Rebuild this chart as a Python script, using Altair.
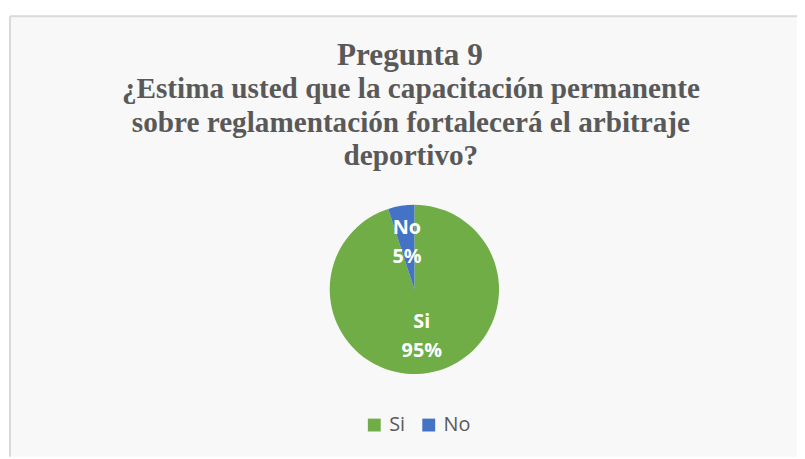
import altair as alt
import pandas as pd

categories = ["Si", "No"]
values = [95, 5]
colors = ["#70AD47", "#4472C4"]
order_idx = [1, 2]
labels = ["Si\n95%", "No\n5%"]

title_text = "Pregunta 9"
subtitle_text = "¿Estima usted que la capacitación permanente\nsobre reglamentación fortalecerá el arbitraje\ndeportivo?"

df = pd.DataFrame({"cat": categories, "val": values, "ord": order_idx, "label": labels})
one = pd.DataFrame({"k": [0]})

CX, CY, R = 408.5, 276, 85.5

base = alt.Chart(df).encode(
    theta=alt.Theta("val:Q", stack=True),
    order=alt.Order("ord:Q"),
)

pie = base.mark_arc(radius=R, stroke=None).encode(
    x=alt.value(CX),
    y=alt.value(CY),
    color=alt.Color(
        "cat:N",
        scale=alt.Scale(domain=categories, range=colors),
        sort=categories,
        legend=alt.Legend(
            title=None,
            orient="none",
            direction="horizontal",
            legendX=358,
            legendY=403,
            symbolType="square",
            symbolSize=169,
            symbolStrokeWidth=0,
            labelFont="Open Sans",
            labelFontSize=20,
            labelColor="#595959",
            columnPadding=13,
            labelOffset=5,
        ),
    ),
)

text = base.mark_text(
    radius=48,
    font="Open Sans",
    fontSize=20,
    fontWeight="bold",
    color="white",
    lineBreak="\n",
    lineHeight=29,
    baseline="middle",
    align="center",
    dy=-14.5,
).encode(
    x=alt.value(CX),
    y=alt.value(CY),
    text="label:N",
)

title = alt.Chart(one).mark_text(
    font="Liberation Serif",
    fontSize=31.5,
    fontWeight="bold",
    color="#595959",
    align="center",
    baseline="alphabetic",
).encode(x=alt.value(404), y=alt.value(49), text=alt.value(title_text))

subtitle = alt.Chart(one).mark_text(
    font="Liberation Serif",
    fontSize=29.5,
    fontWeight="bold",
    color="#595959",
    align="center",
    baseline="alphabetic",
    lineBreak="\n",
    lineHeight=33.5,
).encode(x=alt.value(405), y=alt.value(83), text=alt.value(subtitle_text))

top_rule = alt.Chart(one).mark_rule(color="#D9D9D9", strokeWidth=2).encode(
    x=alt.value(0), x2=alt.value(795), y=alt.value(0)
)
left_rule = alt.Chart(one).mark_rule(color="#D9D9D9", strokeWidth=2).encode(
    x=alt.value(0), y=alt.value(0), y2=alt.value(445)
)

chart = alt.layer(pie, text, title, subtitle, top_rule, left_rule).properties(
    width=795,
    height=445,
    autosize=alt.AutoSizeParams(type="none"),
    padding={"left": 2, "top": 6, "right": 0, "bottom": 0},
    background="white",
).configure_view(fill="#F8F8F8", stroke=None)

chart.save("out.html", embed_options={"renderer": "svg", "actions": False})
